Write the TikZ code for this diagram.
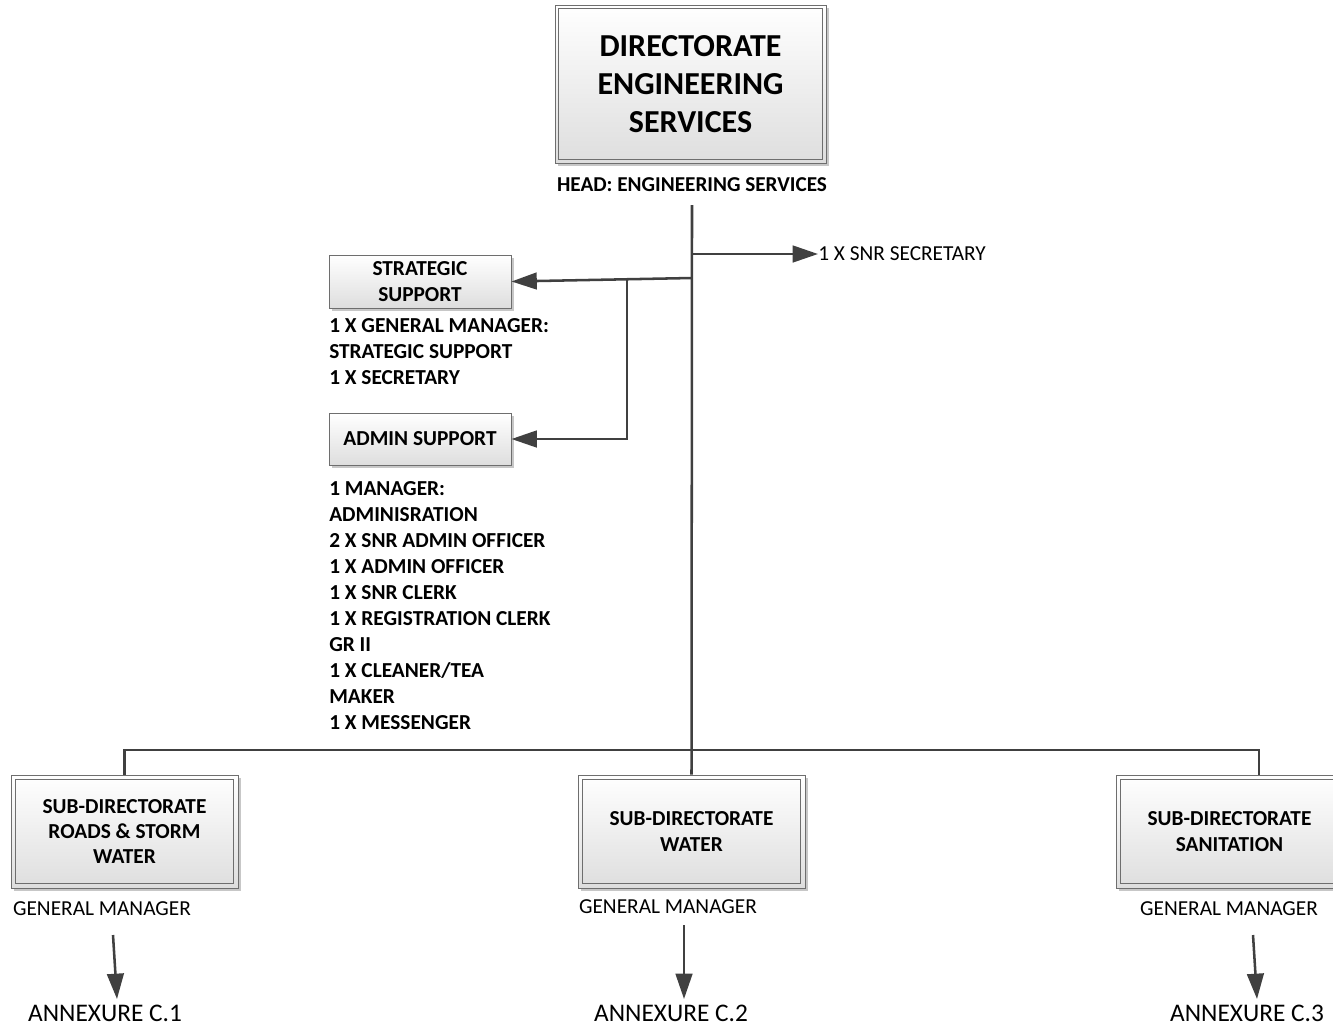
\documentclass[tikz,border=0pt]{standalone}
\usepackage{fontspec}
\setmainfont{Carlito}
\usetikzlibrary{arrows.meta,shadows}
\definecolor{linec}{HTML}{404040}
\definecolor{boxc}{HTML}{6E6E6E}
\begin{document}
\begin{tikzpicture}[x=0.75pt,y=-0.75pt,
  line/.style={draw=linec, line width=1.9pt},
  arr/.style={line, -{Triangle[length=19pt,width=12.5pt]}},
  unitbox/.style={draw=boxc, line width=0.7pt, top color=white, bottom color=black!13,
    drop shadow={shadow xshift=2.5pt, shadow yshift=-2.5pt, fill=black!22, opacity=1},
    align=center, inner sep=0pt, font=\bfseries\fontsize{16}{19}\selectfont},
  bigbox/.style={unitbox},
  label/.style={inner sep=0pt, font=\fontsize{16}{19.5}\selectfont},
  annex/.style={inner sep=0pt, font=\fontsize{19}{22}\selectfont},
  blabel/.style={inner sep=0pt, align=left, font=\bfseries\fontsize{16}{19.5}\selectfont},
]
\useasboundingbox (0,0) rectangle (1333,1028);

% top box
\node[bigbox, minimum width=203.25pt, minimum height=118.5pt,
  font=\bfseries\fontsize{24}{28.5}\selectfont] (top) at (690.5,84)
  {DIRECTORATE\\ENGINEERING\\SERVICES};
\draw[boxc, line width=0.7pt] ([shift={(4,4)}]top.north west) rectangle ([shift={(-4,-4)}]top.south east);
\node[blabel, font=\bfseries\fontsize{15.9}{19}\selectfont] (head) at (692,185) {HEAD: ENGINEERING SERVICES};

% strategic + admin
\node[unitbox, minimum width=136.5pt, minimum height=39.75pt] (strat) at (420,281.5) {STRATEGIC\\SUPPORT};
\node[blabel, anchor=north west] (stratl) at (329,318)
  {1 X GENERAL MANAGER:\\STRATEGIC SUPPORT\\1 X SECRETARY};
\node[unitbox, minimum width=136.5pt, minimum height=39pt] (admin) at (420,439) {ADMIN SUPPORT};
\node[blabel, anchor=north west] (adminl) at (329,481)
  {1 MANAGER:\\ADMINISRATION\\2 X SNR ADMIN OFFICER\\1 X ADMIN OFFICER\\1 X SNR CLERK\\1 X REGISTRATION CLERK\\GR II\\1 X CLEANER/TEA\\MAKER\\1 X MESSENGER};

\node[label, anchor=west] (snr) at (818,254) {1 X SNR SECRETARY};

% sub-directorates
\node[unitbox, minimum width=170.25pt, minimum height=84.75pt] (roads) at (124.5,831.5)
  {SUB-DIRECTORATE\\ROADS \& STORM\\WATER};
\node[unitbox, minimum width=170.25pt, minimum height=84.75pt] (water) at (691.5,831.5)
  {SUB-DIRECTORATE\\WATER};
\node[unitbox, minimum width=170.25pt, minimum height=84.75pt] (sanit) at (1229.5,831.5)
  {SUB-DIRECTORATE\\SANITATION};
\foreach \b in {roads,water,sanit}
  \draw[boxc, line width=0.7pt] ([shift={(5,5)}]\b.north west) rectangle ([shift={(-5,-5)}]\b.south east);

\node[label] (gm1) at (102,909) {GENERAL MANAGER};
\node[label] (gm2) at (668,907) {GENERAL MANAGER};
\node[label] (gm3) at (1229,909) {GENERAL MANAGER};
\node[annex] (an1) at (105,1013) {ANNEXURE C.1};
\node[annex] (an2) at (671,1013) {ANNEXURE C.2};
\node[annex] (an3) at (1247,1013) {ANNEXURE C.3};

% connectors
\coordinate (v0) at (692,205);
\coordinate (j0) at (692,254);
\coordinate (j1) at (692,278);
\coordinate (j2) at (627,279);
\coordinate (busL) at (124.5,750);
\coordinate (busR) at (1259,750);
\draw[line] (v0) -- (water.north);
\draw[arr] (j0) -- (snr.west);
\draw[arr] (j1) -- (strat.east);
\draw[arr] (j2) |- (admin.east);
\draw[line] (roads.north) -- (busL) -- (busR) -- (busR |- sanit.north);

\coordinate (a1s) at (113,935); \coordinate (a1e) at (117,999);
\coordinate (a2s) at (684,925); \coordinate (a2e) at (684,999);
\coordinate (a3s) at (1253,935); \coordinate (a3e) at (1257,999);
\draw[arr] (a1s) -- (a1e);
\draw[arr] (a2s) -- (a2e);
\draw[arr] (a3s) -- (a3e);
\end{tikzpicture}
\end{document}
